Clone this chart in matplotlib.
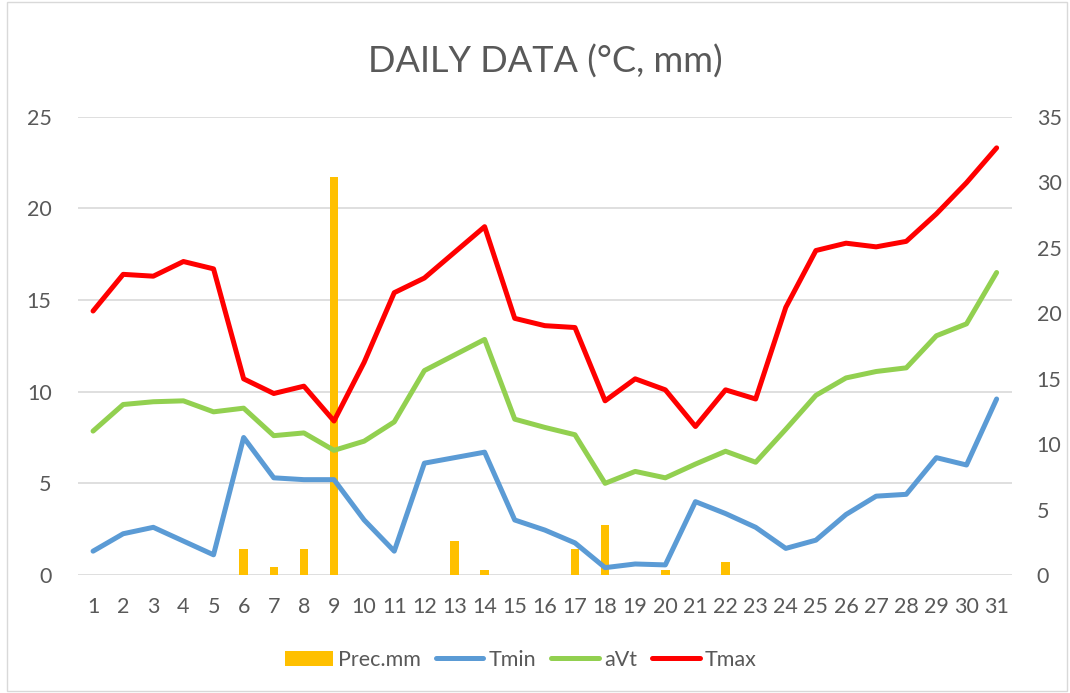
import matplotlib.pyplot as plt
import numpy as np
from matplotlib.patches import Rectangle

days = list(range(1, 32))
tmin = [1.3, 2.25, 2.6, 1.85, 1.1, 7.5, 5.3, 5.2, 5.2, 3.0, 1.3, 6.1, 6.4, 6.7, 3.0,
        2.45, 1.75, 0.4, 0.6, 0.55, 4.0, 3.35, 2.6, 1.45, 1.9, 3.3, 4.3, 4.4, 6.4, 6.0, 9.6]
avt = [7.85, 9.3, 9.45, 9.5, 8.9, 9.1, 7.6, 7.75, 6.8, 7.3, 8.35, 11.15, 12.0, 12.85, 8.5,
       8.05, 7.65, 5.0, 5.65, 5.3, 6.05, 6.75, 6.15, 7.95, 9.8, 10.75, 11.1, 11.3, 13.05, 13.7, 16.5]
tmax = [14.4, 16.4, 16.3, 17.1, 16.7, 10.7, 9.9, 10.3, 8.4, 11.6, 15.4, 16.2, 17.6, 19.0, 14.0,
        13.6, 13.5, 9.5, 10.7, 10.1, 8.1, 10.1, 9.6, 14.6, 17.7, 18.1, 17.9, 18.2, 19.7, 21.4, 23.3]
prec = [0, 0, 0, 0, 0, 2.0, 0.6, 2.0, 30.4, 0, 0, 0, 2.6, 0.4, 0,
        0, 2.0, 3.8, 0, 0.4, 0, 1.0, 0, 0, 0, 0, 0, 0, 0, 0, 0]

plt.rcParams['font.family'] = ['Lato', 'DejaVu Sans']
grey = '#595959'

fig = plt.figure(figsize=(10.7, 6.93), dpi=100)
fig.patches.append(Rectangle((0.007, 0.003), 0.99, 0.994, transform=fig.transFigure,
                             fill=False, edgecolor='#D9D9D9', lw=1))

ax = fig.add_axes([0.0729, 0.1703, 0.8726, 0.6613])
ax2 = ax.twinx()

# bars on the secondary axis, drawn behind the lines
ax2.bar(days, prec, width=0.28, color='#FFC000', label='Prec.mm', zorder=1)
ax2.set_ylim(0, 35)
ax2.set_yticks(np.arange(0, 36, 5))

ax.set_zorder(ax2.get_zorder() + 1)
ax.patch.set_visible(False)

ax.plot(days, tmin, color='#5B9BD5', lw=3.6, solid_capstyle='round', solid_joinstyle='round', label='Tmin')
ax.plot(days, avt, color='#92D050', lw=3.6, solid_capstyle='round', solid_joinstyle='round', label='aVt')
ax.plot(days, tmax, color='#FF0000', lw=3.6, solid_capstyle='round', solid_joinstyle='round', label='Tmax')

ax.set_ylim(0, 25)
ax.set_yticks(np.arange(0, 26, 5))
ax.set_xlim(0.5, 31.5)
ax.set_xticks(days)

ax2.grid(False)
for v in np.arange(0, 26, 5):
    ax2.axhline(v * 35 / 25, color='#D9D9D9', lw=1.2, zorder=0)

for a in (ax, ax2):
    for s in a.spines.values():
        s.set_visible(False)
    a.tick_params(length=0, labelsize=15.5, labelcolor=grey)
ax.tick_params(axis='y', pad=19)
ax.tick_params(axis='x', pad=16)
ax2.tick_params(axis='y', pad=18)

fig.suptitle('DAILY DATA (°C, mm)', x=0.51, y=0.935, fontsize=26, color=grey)

h2, l2 = ax2.get_legend_handles_labels()
h1, l1 = ax.get_legend_handles_labels()
fig.legend(h2 + h1, l2 + l1, loc='center', bbox_to_anchor=(0.487, 0.048), ncol=4, frameon=False,
           fontsize=15.5, labelcolor=grey, handlelength=2.2, columnspacing=0.7, handletextpad=0.25)

plt.savefig('out.png', dpi=100)
